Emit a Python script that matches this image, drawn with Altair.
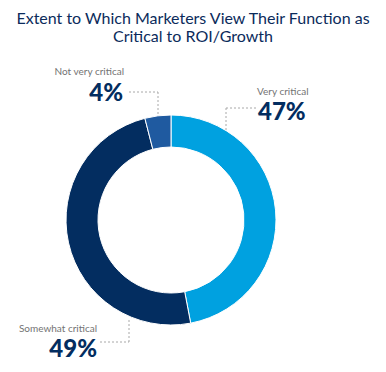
import altair as alt
import pandas as pd

# ---- data ----
categories = ["Very critical", "Somewhat critical", "Not very critical"]
values = [47, 49, 4]
slice_order = [1, 2, 3]
colors = ["#00A1E0", "#032D60", "#1F5AA0"]
pct_labels = ["47%", "49%", "4%"]

# ---- layout constants (page pixel coords) ----
PAD_TOP = 48
W, H = 370, 308
FONT = "Lato"

def cx(px):
    return px - 8

def cy(py):
    return py - 8 - PAD_TOP

center = (171, 220)
outer_r, inner_r = 105, 73

# name label: (x, baseline y, align); pct label: (x, baseline y, align)
name_pos = {"Very critical": (257, 95, "left"),
            "Somewhat critical": (97, 332, "right"),
            "Not very critical": (124, 75, "right")}
pct_pos = {"Very critical": (258, 120, "left"),
           "Somewhat critical": (97, 357, "right"),
           "Not very critical": (123, 101, "right")}
# leader segments (x1, y1, x2, y2)
leaders = [
    (226, 108, 256, 108), (226, 108, 226, 130),
    (129, 92, 158, 92), (158, 92, 158, 115),
    (100, 342, 129, 342), (129, 342, 129, 318),
]

df = pd.DataFrame({"category": categories, "value": values, "order": slice_order})

arc = alt.Chart(df).mark_arc(
    innerRadius=inner_r, outerRadius=outer_r,
    x=cx(center[0]), y=cy(center[1]),
    stroke="white", strokeWidth=1,
).encode(
    theta=alt.Theta("value:Q", stack=True),
    color=alt.Color("category:N", scale=alt.Scale(domain=categories, range=colors), legend=None),
    order=alt.Order("order:Q"),
)

seg_df = pd.DataFrame([{"x": cx(a), "y": cy(b), "x2": cx(c), "y2": cy(d)} for a, b, c, d in leaders])
rules = alt.Chart(seg_df).mark_rule(color="#a8a8a8", strokeDash=[2, 2], strokeWidth=1).encode(
    x=alt.X("x:Q", scale=None), y=alt.Y("y:Q", scale=None),
    x2="x2:Q", y2="y2:Q",
)

layers = [arc, rules]
for cat, pct in zip(categories, pct_labels):
    nx, ny, na = name_pos[cat]
    px, py, pa = pct_pos[cat]
    name_df = pd.DataFrame({"t": [cat], "x": [cx(nx)], "y": [cy(ny)]})
    pct_df = pd.DataFrame({"t": [pct], "x": [cx(px)], "y": [cy(py)]})
    layers.append(alt.Chart(name_df).mark_text(
        align=na, baseline="alphabetic", font=FONT, fontSize=10, color="#737373"
    ).encode(x=alt.X("x:Q", scale=None), y=alt.Y("y:Q", scale=None), text="t:N"))
    layers.append(alt.Chart(pct_df).mark_text(
        align=pa, baseline="alphabetic", font=FONT, fontSize=24, fontWeight=900, color="#032D60"
    ).encode(x=alt.X("x:Q", scale=None), y=alt.Y("y:Q", scale=None), text="t:N"))

chart = alt.layer(*layers).properties(
    width=W, height=H,
    title=alt.Title(
        ["Extent to Which Marketers View Their Function as", "Critical to ROI/Growth"],
        font=FONT, fontSize=16, fontWeight="normal", color="#0B2B5B",
        anchor="middle", lineHeight=18, offset=11,
    ),
    autosize=alt.AutoSizeParams(type="none"),
    padding={"top": PAD_TOP, "left": 0, "right": 0, "bottom": 0},
).configure_view(stroke=None)

chart.save("out.html", embed_options={"renderer": "svg", "actions": False})
